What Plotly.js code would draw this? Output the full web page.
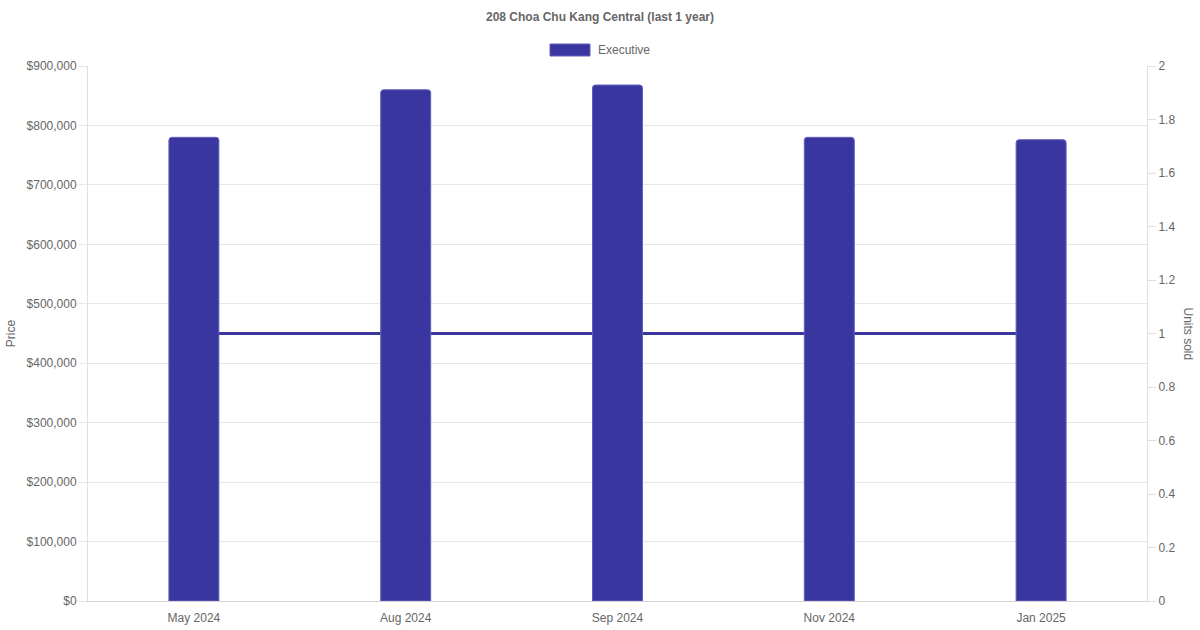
<!DOCTYPE html>
<html>
<head>
<meta charset="utf-8">
<script src="https://cdn.plot.ly/plotly-3.0.1.min.js"></script>
<style>html,body{margin:0;padding:0;background:#fff;}#chart{width:1200px;height:630px;}</style>
</head>
<body>
<div id="chart"></div>
<script>
const months = ["May 2024", "Aug 2024", "Sep 2024", "Nov 2024", "Jan 2025"];
const prices = [780000, 860000, 868000, 780000, 776000];
const unitsSold = [1, 1, 1, 1, 1];
const seriesName = "Executive";
const chartTitle = "208 Choa Chu Kang Central (last 1 year)";
const leftAxisTitle = "Price";
const rightAxisTitle = "Units sold";

const barColor = "#3a36a0";
const fontFamily = "Liberation Sans, Arial, Helvetica, sans-serif";
const textColor = "#666666";

const traces = [
  {
    type: "scatter",
    mode: "lines",
    x: months,
    y: unitsSold,
    yaxis: "y",
    xaxis: "x",
    name: "Units sold",
    showlegend: false,
    line: {color: barColor, width: 3},
    hoverinfo: "skip"
  },
  {
    type: "bar",
    x: months,
    y: prices,
    xaxis: "x",
    yaxis: "y2",
    name: seriesName,
    showlegend: false,
    marker: {color: barColor, line: {color: "#6360bd", width: 1}}
  }
];

const layout = {
  width: 1200,
  height: 630,
  margin: {l: 88, r: 53, t: 66, b: 29, pad: 0},
  paper_bgcolor: "#ffffff",
  plot_bgcolor: "#ffffff",
  font: {family: fontFamily, size: 12, color: textColor},
  showlegend: false,
  bargap: 0.764,
  barcornerradius: 3,
  title: {
    text: chartTitle,
    font: {family: fontFamily, size: 12, color: textColor, weight: "bold"},
    x: 0.5, xanchor: "center",
    y: 1 - 17 / 630, yref: "container", yanchor: "middle"
  },
  xaxis: {
    type: "category",
    range: [-0.5, 4.5],
    showgrid: false,
    zeroline: false,
    showline: true,
    linecolor: "#d4d4d4",
    linewidth: 1,
    ticks: "outside",
    ticklen: 6,
    tickcolor: "rgba(0,0,0,0)",
    tickfont: {size: 12, color: textColor},
    automargin: false
  },
  yaxis: {
    range: [0, 2],
    dtick: 0.2,
    side: "right",
    showgrid: false,
    zeroline: false,
    showline: true,
    linecolor: "#e0e0e0",
    ticks: "outside",
    ticklen: 8,
    tickcolor: "#e0e0e0",
    tickfont: {size: 12, color: textColor},
    automargin: false
  },
  yaxis2: {
    overlaying: "y",
    side: "left",
    range: [0, 900000],
    dtick: 100000,
    tickprefix: "$",
    tickformat: ",d",
    showgrid: true,
    gridcolor: "#e6e6e6",
    zeroline: false,
    showline: true,
    linecolor: "#e0e0e0",
    ticks: "outside",
    ticklen: 8,
    tickcolor: "#e6e6e6",
    tickfont: {size: 12, color: textColor},
    title: {text: leftAxisTitle, font: {size: 12, color: textColor}, standoff: 8},
    automargin: false
  },
  shapes: [
    {
      type: "rect", xref: "paper", yref: "paper",
      x0: (550 - 88) / 1059, x1: (590 - 88) / 1059,
      y0: (601 - 56) / 535, y1: (601 - 44) / 535,
      fillcolor: barColor, line: {color: "#6360bd", width: 1}
    }
  ],
  annotations: [
    {
      text: seriesName, xref: "paper", yref: "paper",
      x: (596 - 88) / 1059, y: (601 - 50) / 535,
      xanchor: "left", yanchor: "middle", showarrow: false,
      font: {size: 12, color: textColor}
    },
    {
      text: rightAxisTitle, xref: "paper", yref: "paper",
      x: (1188 - 88) / 1059, y: 0.5,
      xanchor: "center", yanchor: "middle", showarrow: false,
      textangle: 90,
      font: {size: 12, color: textColor}
    }
  ]
};

Plotly.newPlot("chart", traces, layout, {displayModeBar: false, staticPlot: true});
</script>
</body>
</html>
